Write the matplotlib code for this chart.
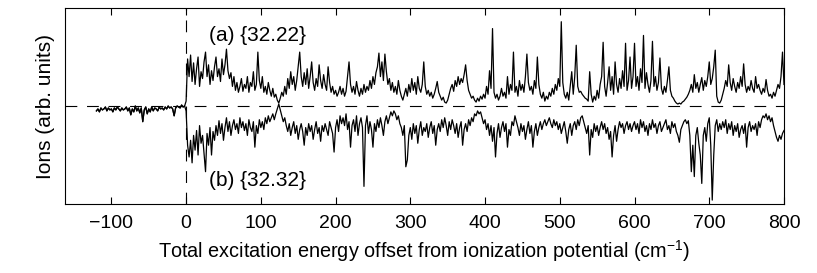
import numpy as np
import matplotlib
matplotlib.use("Agg")
import matplotlib.pyplot as plt

plt.rcParams['font.family'] = ['Liberation Sans', 'DejaVu Sans']
plt.rcParams['mathtext.fontset'] = 'custom'
plt.rcParams['mathtext.rm'] = 'Liberation Sans'
plt.rcParams['mathtext.it'] = 'Liberation Sans:italic'
plt.rcParams['lines.scale_dashes'] = False

# energy grid (cm^-1): below threshold, and above threshold
x_pre = np.arange(-120, 0, 2)
x_post = np.arange(0, 802, 2)

# below-threshold signal (shared by both traces)
y_pre = [
    -0.05, -0.03, -0.06, -0.02, -0.04, -0.03, -0.01, -0.05, -0.02, -0.04,
    -0.03, -0.06, -0.02, -0.04, -0.01, -0.03, -0.05, -0.02, -0.04, -0.03,
    -0.01, -0.05, -0.02, -0.09, -0.03, -0.06, 0.00, -0.05, -0.02, -0.07,
    -0.02, -0.16, -0.04, -0.01, -0.08, -0.03, -0.06, -0.01, -0.05, -0.02,
    -0.03, -0.05, -0.01, -0.03, -0.02, -0.04, -0.01, -0.03, 0.00, -0.02,
    -0.01, -0.03, -0.10, -0.02, 0.00, -0.01, -0.02, 0.01, -0.01, 0.00,
]

# (a) {32.22}
y_a = [
    0.05, 0.48, 0.30, 0.52, 0.25, 0.44, 0.22, 0.38, 0.50, 0.20, 0.35, 0.28, 0.45, 0.55, 0.30, 0.42, 0.22, 0.36, 0.26, 0.40,
    0.50, 0.30, 0.38, 0.25, 0.48, 0.32, 0.42, 0.58, 0.36, 0.28, 0.34, 0.20, 0.30, 0.16, 0.24, 0.14, 0.20, 0.28, 0.15, 0.22,
    0.18, 0.30, 0.14, 0.24, 0.20, 0.35, 0.16, 0.22, 0.55, 0.26, 0.18, 0.30, 0.14, 0.20, 0.12, 0.24, 0.16, 0.10, 0.18, 0.09,
    0.12, 0.06, 0.03, 0.08, 0.14, 0.10, 0.20, 0.12, 0.28, 0.18, 0.35, 0.22, 0.30, 0.16, 0.26, 0.40, 0.55, 0.30, 0.20, 0.34,
    0.22, 0.38, 0.18, 0.30, 0.45, 0.24, 0.16, 0.28, 0.20, 0.42, 0.26, 0.18, 0.32, 0.22, 0.16, 0.40, 0.24, 0.14, 0.20, 0.12,
    0.16, 0.10, 0.14, 0.20, 0.12, 0.18, 0.10, 0.15, 0.30, 0.45, 0.22, 0.14, 0.20, 0.12, 0.25, 0.16, 0.10, 0.18, 0.12, 0.22,
    0.14, 0.20, 0.16, 0.26, 0.18, 0.30, 0.22, 0.34, 0.40, 0.54, 0.30, 0.45, 0.26, 0.53, 0.35, 0.22, 0.28, 0.16, 0.24, 0.14,
    0.20, 0.12, 0.26, 0.16, 0.10, 0.06, 0.12, 0.18, 0.10, 0.22, 0.14, 0.28, 0.16, 0.24, 0.12, 0.30, 0.18, 0.14, 0.22, 0.45,
    0.20, 0.12, 0.16, 0.10, 0.14, 0.08, 0.12, 0.18, 0.25, 0.14, 0.10, 0.06, 0.09, 0.04, 0.03, 0.06, 0.12, 0.18, 0.22, 0.15,
    0.26, 0.20, 0.30, 0.22, 0.28, 0.24, 0.32, 0.42, 0.26, 0.16, 0.12, 0.08, 0.10, 0.06, 0.04, 0.08, 0.05, 0.10, 0.07, 0.12,
    0.08, 0.20, 0.12, 0.36, 0.18, 0.79, 0.14, 0.08, 0.12, 0.06, 0.10, 0.18, 0.10, 0.14, 0.08, 0.30, 0.12, 0.22, 0.16, 0.55,
    0.14, 0.20, 0.10, 0.26, 0.16, 0.22, 0.14, 0.30, 0.53, 0.24, 0.16, 0.20, 0.12, 0.26, 0.18, 0.50, 0.22, 0.12, 0.08, 0.14,
    0.05, 0.10, 0.07, 0.14, 0.10, 0.18, 0.12, 0.22, 0.16, 0.28, 0.20, 0.86, 0.24, 0.12, 0.08, 0.14, 0.06, 0.20, 0.35, 0.12,
    0.30, 0.62, 0.20, 0.14, 0.15, 0.12, 0.10, 0.08, 0.07, 0.05, 0.35, 0.12, 0.04, 0.10, 0.06, 0.16, 0.08, 0.22, 0.30, 0.65,
    0.20, 0.10, 0.24, 0.40, 0.16, 0.30, 0.12, 0.45, 0.22, 0.14, 0.28, 0.18, 0.36, 0.20, 0.64, 0.16, 0.26, 0.50, 0.18, 0.30,
    0.64, 0.20, 0.30, 0.16, 0.38, 0.24, 0.72, 0.18, 0.34, 0.22, 0.14, 0.26, 0.66, 0.20, 0.30, 0.16, 0.24, 0.49, 0.18, 0.12,
    0.20, 0.14, 0.26, 0.40, 0.16, 0.10, 0.08, 0.05, 0.03, 0.02, 0.03, 0.02, 0.04, 0.05, 0.07, 0.09, 0.12, 0.16, 0.22, 0.14,
    0.32, 0.18, 0.24, 0.14, 0.22, 0.29, 0.16, 0.26, 0.20, 0.30, 0.45, 0.22, 0.28, 0.40, 0.57, 0.10, 0.04, 0.03, 0.06, 0.12,
    0.18, 0.26, 0.20, 0.42, 0.24, 0.16, 0.28, 0.20, 0.14, 0.24, 0.18, 0.30, 0.20, 0.43, 0.22, 0.14, 0.20, 0.16, 0.26, 0.18,
    0.14, 0.30, 0.18, 0.22, 0.16, 0.12, 0.18, 0.14, 0.27, 0.16, 0.10, 0.12, 0.08, 0.14, 0.10, 0.16, 0.22, 0.18, 0.30, 0.55,
    0.22,
]

# (b) {32.32}, drawn inverted
y_b = [
    -0.05, -0.40, -0.52, -0.35, -0.58, -0.30, -0.45, -0.25, -0.50, -0.20, -0.38, -0.30, -0.48, -0.67, -0.28, -0.40, -0.22, -0.50, -0.26, -0.35,
    -0.20, -0.30, -0.15, -0.28, -0.18, -0.35, -0.22, -0.12, -0.26, -0.16, -0.30, -0.20, -0.14, -0.24, -0.18, -0.28, -0.12, -0.22, -0.16, -0.25,
    -0.18, -0.30, -0.14, -0.22, -0.26, -0.16, -0.42, -0.20, -0.28, -0.14, -0.22, -0.16, -0.24, -0.12, -0.18, -0.10, -0.16, -0.12, -0.08, -0.14,
    -0.08, -0.03, 0.02, -0.04, -0.10, -0.16, -0.12, -0.20, -0.26, -0.18, -0.30, -0.22, -0.16, -0.28, -0.20, -0.34, -0.24, -0.18, -0.26, -0.40,
    -0.22, -0.30, -0.18, -0.26, -0.20, -0.34, -0.24, -0.16, -0.28, -0.22, -0.36, -0.20, -0.26, -0.18, -0.24, -0.30, -0.16, -0.22, -0.28, -0.47,
    -0.22, -0.14, -0.26, -0.10, -0.18, -0.12, -0.20, -0.08, -0.24, -0.16, -0.42, -0.20, -0.14, -0.26, -0.10, -0.30, -0.18, -0.12, -0.22, -0.82,
    -0.20, -0.10, -0.28, -0.16, -0.24, -0.42, -0.18, -0.26, -0.14, -0.22, -0.12, -0.20, -0.30, -0.16, -0.10, -0.18, -0.12, -0.06, -0.10, -0.05,
    -0.08, -0.14, -0.10, -0.18, -0.22, -0.30, -0.20, -0.62, -0.55, -0.30, -0.22, -0.34, -0.18, -0.28, -0.20, -0.38, -0.24, -0.16, -0.30, -0.22,
    -0.26, -0.18, -0.32, -0.22, -0.16, -0.28, -0.20, -0.40, -0.24, -0.18, -0.26, -0.14, -0.22, -0.12, -0.20, -0.30, -0.16, -0.24, -0.14, -0.20,
    -0.28, -0.18, -0.32, -0.22, -0.16, -0.40, -0.24, -0.18, -0.26, -0.14, -0.20, -0.12, -0.16, -0.08, -0.10, -0.05, -0.08, -0.06, -0.12, -0.18,
    -0.14, -0.24, -0.18, -0.30, -0.20, -0.36, -0.22, -0.52, -0.28, -0.18, -0.32, -0.22, -0.16, -0.26, -0.18, -0.42, -0.24, -0.30, -0.16, -0.20,
    -0.10, -0.16, -0.22, -0.30, -0.18, -0.26, -0.20, -0.34, -0.24, -0.16, -0.28, -0.20, -0.42, -0.26, -0.18, -0.30, -0.22, -0.16, -0.24, -0.18,
    -0.14, -0.20, -0.16, -0.12, -0.18, -0.22, -0.14, -0.20, -0.16, -0.24, -0.18, -0.28, -0.22, -0.16, -0.26, -0.38, -0.24, -0.18, -0.30, -0.20,
    -0.16, -0.24, -0.14, -0.20, -0.12, -0.10, -0.16, -0.22, -0.28, -0.20, -0.50, -0.24, -0.32, -0.18, -0.26, -0.20, -0.30, -0.22, -0.16, -0.24,
    -0.18, -0.28, -0.22, -0.34, -0.26, -0.52, -0.30, -0.20, -0.36, -0.24, -0.16, -0.22, -0.18, -0.28, -0.20, -0.16, -0.24, -0.18, -0.26, -0.20,
    -0.16, -0.24, -0.18, -0.28, -0.14, -0.22, -0.16, -0.26, -0.20, -0.30, -0.18, -0.24, -0.14, -0.22, -0.18, -0.28, -0.20, -0.16, -0.26, -0.22,
    -0.18, -0.14, -0.24, -0.20, -0.28, -0.16, -0.22, -0.18, -0.26, -0.30, -0.37, -0.24, -0.20, -0.16, -0.14, -0.18, -0.15, -0.30, -0.67, -0.40,
    -0.72, -0.30, -0.22, -0.38, -0.50, -0.79, -0.30, -0.22, -0.36, -0.18, -0.12, -0.40, -0.96, -0.50, -0.20, -0.14, -0.26, -0.18, -0.24, -0.16,
    -0.22, -0.14, -0.28, -0.18, -0.24, -0.16, -0.30, -0.20, -0.26, -0.18, -0.32, -0.24, -0.20, -0.28, -0.18, -0.42, -0.22, -0.16, -0.26, -0.20,
    -0.24, -0.18, -0.30, -0.16, -0.22, -0.14, -0.10, -0.12, -0.08, -0.14, -0.10, -0.16, -0.12, -0.20, -0.26, -0.32, -0.36, -0.30, -0.34, -0.28,
    -0.25,
]

xticks = [-100, 0, 100, 200, 300, 400, 500, 600, 700, 800]

fig = plt.figure(figsize=(8.17, 2.73), dpi=100)
ax = fig.add_axes([0.0796, 0.2527, 0.88, 0.718])

xa = np.concatenate([x_pre, x_post])
ax.plot(xa, np.concatenate([y_pre, y_a]), color='k', lw=0.9)
ax.plot(xa, np.concatenate([y_pre, y_b]), color='k', lw=0.9)

# reference lines
ax.axhline(0, color='k', lw=0.8, dashes=(8.5, 7))
ax.axvline(0, color='k', lw=0.8, dashes=(8.5, 7))

ax.text(31, 0.72, '(a) {32.22}', fontsize=15, va='center', ha='left')
ax.text(31, -0.755, '(b) {32.32}', fontsize=15, va='center', ha='left')

ax.set_xlim(-162, 800)
ax.set_ylim(-1, 1)
ax.set_xticks(xticks)
ax.set_xticklabels([str(t).replace('-', '\u2212') for t in xticks])
ax.set_yticks([])
ax.tick_params(axis='x', direction='in', top=True, length=5, width=0.8,
               labelsize=14, pad=8)
for s in ax.spines.values():
    s.set_linewidth(0.8)

ax.set_xlabel('Total excitation energy offset from ionization potential (cm$^{-1}$)',
              fontsize=14.3, labelpad=4)
ax.set_ylabel('Ions (arb. units)', fontsize=15, labelpad=7)

fig.savefig('out.png', dpi=100)
